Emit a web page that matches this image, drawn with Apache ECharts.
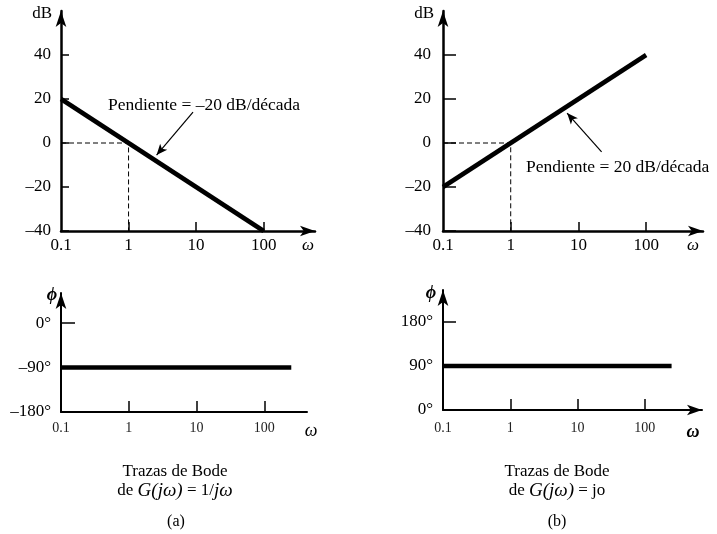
<!DOCTYPE html>
<html>
<head>
<meta charset="utf-8">
<script src="https://cdn.jsdelivr.net/npm/echarts@6/dist/echarts.min.js"></script>
<style>
  html, body { margin: 0; padding: 0; background: #fff; }
  #bode { width: 717px; height: 534px; }
</style>
</head>
<body>
<div id="bode"></div>
<script>
// frecuencias de las marcas del eje ω (escala logarítmica)
const tickOmega = [0.1, 1, 10, 100]
const magTicks = [-40, -20, 0, 20, 40]
const phaseTicksA = [-180, -90, 0]
const phaseTicksB = [0, 90, 180]

// magnitud (dB)
const magOmega = [0.1, 100]
const magA = [20, -40]
const magB = [-20, 40]
// líneas de guía discontinuas en ω = 1, 0 dB
const guideOmega = [0.1, 1, 1]
const guideDb = [0, 0, -40]

// fase (grados)
const phaseOmega = [0.1, 250]
const phaseA = [-90, -90]
const phaseB = [90, 90]

// flechas de las anotaciones: [ω, dB] cola -> punta
const arrowA = [[9, 14], [2.6, -5.5]]
const arrowB = [[22, -4], [6.8, 13.6]]

const lg = Math.log10
const FONT = 'Liberation Serif'
const pts = (xs, ys) => xs.map((x, i) => [lg(x), ys[i]])
const dash = s => String(s).replace('-', '\u2013')

function xAxis(gridIndex, max, opts) {
  return {
    type: 'value',
    gridIndex,
    min: -1,
    max,
    axisLine: {
      onZero: false,
      symbol: opts.arrow ? ['none', 'arrow'] : 'none',
      symbolSize: [8, 15],
      lineStyle: { color: '#000', width: opts.lineWidth || 2.5 }
    },
    axisTick: {
      inside: true,
      length: opts.tickLen,
      customValues: tickOmega.slice(1).map(lg),
      lineStyle: { color: '#000', width: 1.5 }
    },
    axisLabel: {
      customValues: tickOmega.map(lg),
      formatter: v => String(Number(Math.pow(10, v).toPrecision(2))),
      margin: opts.labelMargin,
      fontSize: opts.fontSize,
      fontFamily: FONT,
      color: opts.color || '#000'
    },
    splitLine: { show: false }
  }
}

function yAxis(gridIndex, min, max, ticks, opts) {
  return {
    type: 'value',
    gridIndex,
    min,
    max,
    axisLine: {
      onZero: false,
      symbol: ['none', 'arrow'],
      symbolSize: [8, 16],
      lineStyle: { color: '#000', width: opts.lineWidth || 2.5 }
    },
    axisTick: {
      inside: true,
      length: opts.tickLen,
      customValues: ticks,
      lineStyle: { color: '#000', width: 1.5 }
    },
    axisLabel: {
      customValues: ticks,
      formatter: opts.formatter,
      margin: opts.labelMargin,
      fontSize: opts.fontSize,
      fontFamily: FONT,
      color: '#000'
    },
    splitLine: { show: false }
  }
}

function arrowMark(a) {
  return {
    silent: true,
    symbol: ['none', 'arrow'],
    symbolSize: [7, 11],
    lineStyle: { color: '#000', width: 1.2, type: 'solid' },
    label: { show: false },
    emphasis: { disabled: true },
    data: [[{ coord: [lg(a[0][0]), a[0][1]] }, { coord: [lg(a[1][0]), a[1][1]] }]]
  }
}

const thick = { color: '#000', width: 4.5 }
const guide = { color: '#000', width: 1, type: [5, 3] }
const deg = v => dash(v) + '°'

function text(x, y, str, style) {
  return {
    type: 'text',
    x, y,
    silent: true,
    style: Object.assign({
      text: str,
      fontFamily: FONT,
      fontSize: 16,
      fill: '#000',
      align: 'center',
      verticalAlign: 'middle'
    }, style)
  }
}

function caption(x, rhs) {
  return {
    type: 'text',
    x, y: 491,
    silent: true,
    style: {
      text: '{n|de }{i|G(jω)}{n| = }' + rhs,
      align: 'center',
      verticalAlign: 'middle',
      rich: {
        n: { fontFamily: FONT, fontSize: 17, fill: '#000' },
        i: { fontFamily: FONT, fontSize: 19, fontStyle: 'italic', fill: '#000' }
      }
    }
  }
}

const chart = echarts.init(document.getElementById('bode'))
chart.setOption({
  animation: false,
  textStyle: { fontFamily: FONT },
  grid: [
    { left: 61, top: 11, width: 254, height: 220 },
    { left: 443, top: 11, width: 260, height: 220 },
    { left: 61, top: 293, width: 246, height: 119 },
    { left: 443, top: 290, width: 259, height: 120 }
  ],
  xAxis: [
    xAxis(0, 2.76, { arrow: true, tickLen: 9, labelMargin: 6, fontSize: 17 }),
    xAxis(1, 2.84, { arrow: true, tickLen: 9, labelMargin: 6, fontSize: 17 }),
    xAxis(2, 2.63, { arrow: false, tickLen: 11, labelMargin: 9, fontSize: 14, color: '#222', lineWidth: 2 }),
    xAxis(3, 2.85, { arrow: true, tickLen: 11, labelMargin: 11, fontSize: 14, color: '#222', lineWidth: 2 })
  ],
  yAxis: [
    yAxis(0, -40, 60, magTicks, { tickLen: 8, labelMargin: 10, fontSize: 17, formatter: dash }),
    yAxis(1, -40, 60, magTicks, { tickLen: 13, labelMargin: 12, fontSize: 17, formatter: dash }),
    yAxis(2, -180, 61, phaseTicksA, { tickLen: 14, labelMargin: 10, fontSize: 17, formatter: deg, lineWidth: 2 }),
    yAxis(3, 0, 245, phaseTicksB, { tickLen: 13, labelMargin: 10, fontSize: 17, formatter: deg, lineWidth: 2 })
  ],
  series: [
    {
      type: 'line', xAxisIndex: 0, yAxisIndex: 0, z: 1,
      data: pts(guideOmega, guideDb), symbol: 'none', lineStyle: guide
    },
    {
      type: 'line', xAxisIndex: 0, yAxisIndex: 0, z: 3,
      data: pts(magOmega, magA), symbol: 'none', lineStyle: thick,
      markLine: arrowMark(arrowA)
    },
    {
      type: 'line', xAxisIndex: 1, yAxisIndex: 1, z: 1,
      data: pts(guideOmega, guideDb), symbol: 'none', lineStyle: guide
    },
    {
      type: 'line', xAxisIndex: 1, yAxisIndex: 1, z: 3,
      data: pts(magOmega, magB), symbol: 'none', lineStyle: thick,
      markLine: arrowMark(arrowB)
    },
    {
      type: 'line', xAxisIndex: 2, yAxisIndex: 2,
      data: pts(phaseOmega, phaseA), symbol: 'none', lineStyle: thick
    },
    {
      type: 'line', xAxisIndex: 3, yAxisIndex: 3,
      data: pts(phaseOmega, phaseB), symbol: 'none', lineStyle: thick
    }
  ],
  graphic: [
    text(52, 14, 'dB', { align: 'right', fontSize: 17 }),
    text(434, 14, 'dB', { align: 'right', fontSize: 17 }),
    text(308, 246, 'ω', { fontStyle: 'italic', fontSize: 17 }),
    text(693, 246, 'ω', { fontStyle: 'italic', fontSize: 17 }),
    text(52, 295, 'ϕ', { fontStyle: 'italic', fontWeight: 'bold', fontSize: 18 }),
    text(431, 293, 'ϕ', { fontStyle: 'italic', fontWeight: 'bold', fontSize: 18 }),
    text(311, 431, 'ω', { fontStyle: 'italic', fontSize: 18 }),
    text(693, 432, 'ω', { fontStyle: 'italic', fontWeight: 'bold', fontSize: 18 }),
    text(108, 105, 'Pendiente = –20 dB/década', { align: 'left', fontSize: 17.5 }),
    text(526, 167, 'Pendiente = 20 dB/década', { align: 'left', fontSize: 17.5 }),
    text(175, 472, 'Trazas de Bode', { fontSize: 17 }),
    caption(175, '{n|1/}{i|jω}'),
    text(176, 522, '(a)', { fontSize: 16 }),
    text(557, 472, 'Trazas de Bode', { fontSize: 17 }),
    caption(557, '{n|jo}'),
    text(557, 522, '(b)', { fontSize: 16 })
  ]
})
</script>
</body>
</html>
